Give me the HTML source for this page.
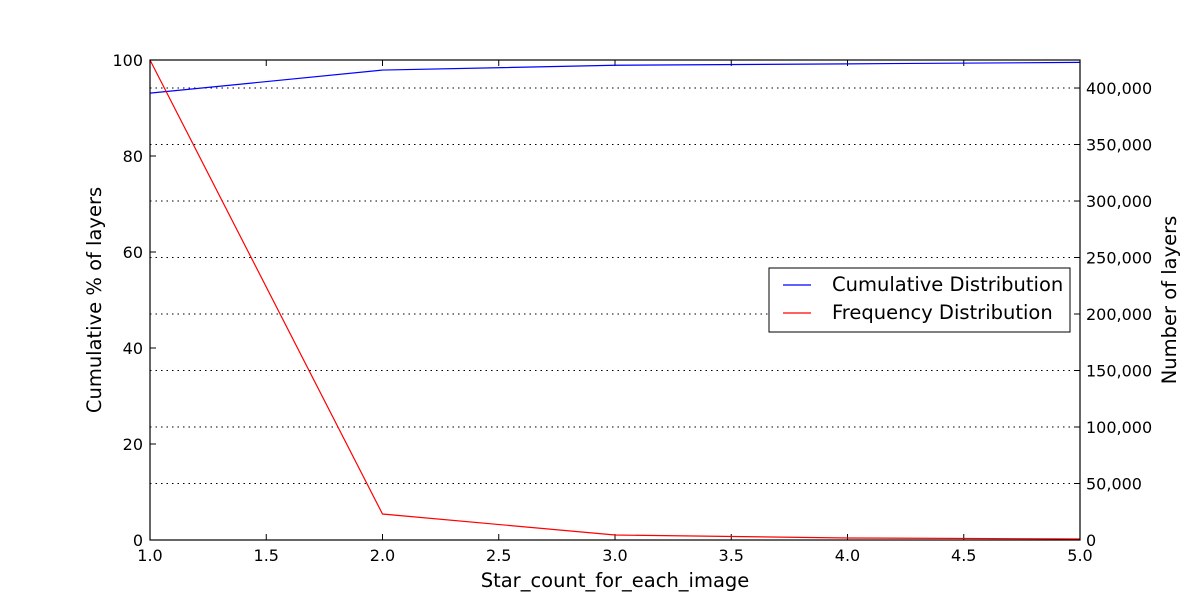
<!DOCTYPE html>
<html><head><meta charset="utf-8"><style>
body{margin:0;background:#fff;}
svg text{font-family:"DejaVu Sans","Liberation Sans",sans-serif;}
</style></head><body>
<svg id="c" width="1200" height="600" xmlns="http://www.w3.org/2000/svg"></svg>
<script>
const xValues=[1,2,3,4,5];
const cumulative=[93.1,97.9,98.9,99.2,99.5];
const frequency=[424800,23000,4400,1800,900];
const xTicks=[1.0,1.5,2.0,2.5,3.0,3.5,4.0,4.5,5.0];
const leftTicks=[0,20,40,60,80,100];
const rightTicks=[0,50000,100000,150000,200000,250000,300000,350000,400000];
const L=150,R=1080,T=60,B=540,RMAX=424800;
const sx=v=>L+(v-1)/4*(R-L);
const sl=v=>B-v/100*(B-T);
const sr=v=>B-v/RMAX*(B-T);
const svg=document.getElementById('c');
const NS='http://www.w3.org/2000/svg';
function mk(tag,attrs,parent){const e=document.createElementNS(NS,tag);for(const k in attrs)e.setAttribute(k,attrs[k]);(parent||svg).appendChild(e);return e;}
rightTicks.forEach(t=>{const g=mk('line',{x1:L,x2:R,y1:sr(t),y2:sr(t),stroke:'#000','stroke-dasharray':'1.5,4','stroke-width':1});

});
xTicks.forEach(t=>{const x=sx(t);
mk('line',{x1:x,x2:x,y1:B,y2:B-6,stroke:'#000'});mk('line',{x1:x,x2:x,y1:T,y2:T+6,stroke:'#000'});
const tx=mk('text',{x:x,y:B+21,'text-anchor':'middle','font-size':16});tx.textContent=t.toFixed(1);

});
leftTicks.forEach(t=>{const y=sl(t);mk('line',{x1:L,x2:L+6,y1:y,y2:y,stroke:'#000'});
const tx=mk('text',{x:L-7,y:y+6,'text-anchor':'end','font-size':16});tx.textContent=t;

});
rightTicks.forEach(t=>{const y=sr(t);mk('line',{x1:R-6,x2:R,y1:y,y2:y,stroke:'#000'});
const tx=mk('text',{x:R+6,y:y+6,'font-size':16});tx.textContent=t.toLocaleString('en-US');

});
const pb=mk('polyline',{points:xValues.map((v,i)=>sx(v)+','+sl(cumulative[i])).join(' '),fill:'none',stroke:'#0000ff','stroke-width':1.2});


const pr=mk('polyline',{points:xValues.map((v,i)=>sx(v)+','+sr(frequency[i])).join(' '),fill:'none',stroke:'#ff0000','stroke-width':1.2});


const fr=mk('rect',{x:L,y:T,width:R-L,height:B-T,fill:'none',stroke:'#000','stroke-width':1.2});


</script>
<svg width="1200" height="600" style="position:absolute;left:0;top:0" xmlns="http://www.w3.org/2000/svg">
<text x="615" y="587" text-anchor="middle" font-size="19.5">Star_count_for_each_image</text>
<text transform="translate(101,300) rotate(-90)" text-anchor="middle" font-size="19.5">Cumulative % of layers</text>
<text transform="translate(1176,300) rotate(-90)" text-anchor="middle" font-size="19.5">Number of layers</text>
<g>
<rect x="769" y="268" width="301" height="64" fill="#fff" stroke="#000" stroke-width="1"/>
<line x1="783" x2="811" y1="285" y2="285" stroke="#0000ff" stroke-width="1.2"/>
<text x="832" y="291" font-size="19.5">Cumulative Distribution</text>
<line x1="783" x2="811" y1="313" y2="313" stroke="#ff0000" stroke-width="1.2"/>
<text x="832" y="319" font-size="19.5">Frequency Distribution</text>
</g>
</svg>
</body></html>
